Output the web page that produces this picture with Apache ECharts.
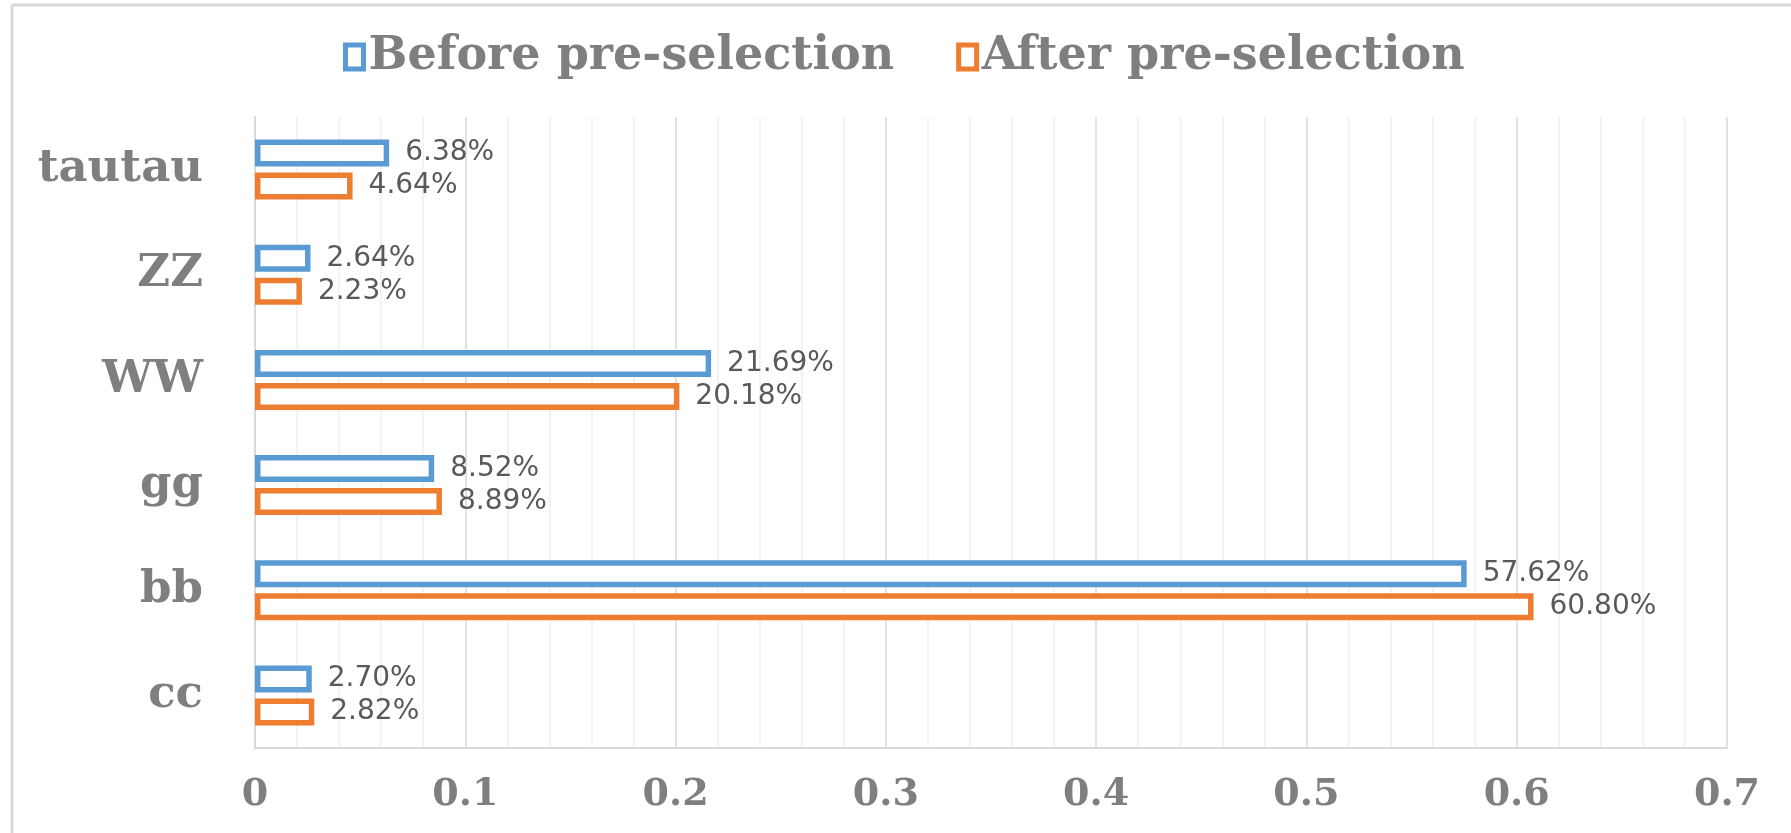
<!DOCTYPE html>
<html>
<head>
<meta charset="utf-8">
<script src="https://cdn.jsdelivr.net/npm/echarts@6/dist/echarts.min.js"></script>
<style>
  html, body { margin: 0; padding: 0; background: #fff; }
  #chart { width: 1791px; height: 833px; }
</style>
</head>
<body>
<div id="chart"></div>
<script>
// categories listed top to bottom (yAxis is inverted)
const categories = ["tautau", "ZZ", "WW", "gg", "bb", "cc"];
const beforeValues = [0.0638, 0.0264, 0.2169, 0.0852, 0.5762, 0.0270];
const afterValues = [0.0464, 0.0223, 0.2018, 0.0889, 0.6080, 0.0282];
const xTicks = [0, 0.1, 0.2, 0.3, 0.4, 0.5, 0.6, 0.7];

const BLUE = "#5b9bd5";
const ORANGE = "#ed7d31";
const GRID_COLOR = "#d9d9d9";
const serifFont = "'DejaVu Serif', 'Liberation Serif', serif";

const myChart = echarts.init(document.getElementById("chart"));

// bar border is drawn inside barWidth, so barWidth is the outer size
function barSeries(name, data, color) {
  return {
    name: name,
    type: "bar",
    barWidth: 27,
    barGap: "22%",
    data: data,
    itemStyle: {
      color: "#ffffff",
      borderColor: color,
      borderWidth: 5.5,
    },
    label: {
      show: true,
      position: "right",
      distance: 16,
      color: "#595959",
      fontFamily: "'DejaVu Sans', sans-serif",
      fontSize: 28,
      formatter: (p) => (p.value * 100).toFixed(2) + "%",
    },
  };
}

myChart.setOption({
  animation: false,
  backgroundColor: "#ffffff",
  graphic: [
    // outer frame (top and left edges visible)
    {
      type: "line",
      shape: { x1: 12, y1: 5, x2: 1791, y2: 5 },
      style: { stroke: GRID_COLOR, lineWidth: 3 },
    },
    {
      type: "line",
      shape: { x1: 12, y1: 5, x2: 12, y2: 833 },
      style: { stroke: GRID_COLOR, lineWidth: 3 },
    },
  ],
  legend: {
    left: 338,
    top: 28,
    itemWidth: 18,
    itemHeight: 24,
    itemGap: 62,
    icon: "rect",
    itemStyle: { borderWidth: 5, color: "#ffffff" },
    textStyle: {
      color: "#7f7f7f",
      fontFamily: serifFont,
      fontWeight: "bold",
      fontSize: 46,
      lineHeight: 48,
    },
  },
  grid: {
    left: 255,
    right: 64,
    top: 117,
    bottom: 85,
    containLabel: false,
  },
  xAxis: {
    type: "value",
    min: xTicks[0],
    max: xTicks[xTicks.length - 1],
    interval: 0.1,
    axisLine: { show: true, lineStyle: { color: GRID_COLOR, width: 2 } },
    axisTick: { show: false },
    axisLabel: {
      margin: 28,
      color: "#7f7f7f",
      fontFamily: serifFont,
      fontWeight: "bold",
      fontSize: 38,
      formatter: (v) => (v === 0 ? "0" : v.toFixed(1)),
    },
    splitLine: { show: true, lineStyle: { color: GRID_COLOR, width: 1.5 } },
    minorTick: { show: false, splitNumber: 5 },
    minorSplitLine: { show: true, lineStyle: { color: "#efefef", width: 1.5 } },
  },
  yAxis: {
    type: "category",
    inverse: true,
    data: categories,
    axisLine: { show: true, lineStyle: { color: GRID_COLOR, width: 2 } },
    axisTick: { show: false },
    axisLabel: {
      margin: 52,
      color: "#7f7f7f",
      fontFamily: serifFont,
      fontWeight: "bold",
      fontSize: 45,
    },
    splitLine: { show: false },
  },
  series: [
    barSeries("Before pre-selection", beforeValues, BLUE),
    barSeries("After pre-selection", afterValues, ORANGE),
  ],
});
</script>
</body>
</html>
